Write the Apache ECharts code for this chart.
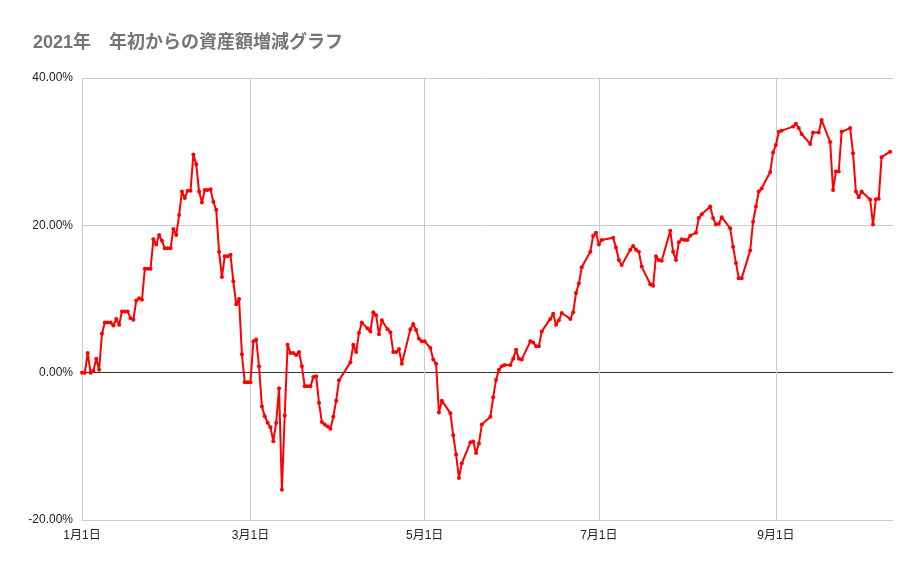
<!DOCTYPE html>
<html>
<head>
<meta charset="utf-8">
<script src="https://cdn.jsdelivr.net/npm/echarts@6/dist/echarts.min.js"></script>
<style>
html,body{margin:0;padding:0;background:#fff;}
#chart{width:921px;height:569px;}
</style>
</head>
<body>
<div id="chart"></div>
<script>
const titleText = '2021年　年初からの資産額増減グラフ';
const year = 2021;
const dates = [
'01-01','01-02','01-03','01-04','01-05','01-06','01-07','01-08','01-09','01-10',
'01-11','01-12','01-13','01-14','01-15','01-16','01-17','01-18','01-19','01-20',
'01-21','01-22','01-23','01-24','01-25','01-26','01-27','01-28','01-29','01-30',
'01-31','02-01','02-02','02-03','02-04','02-05','02-06','02-07','02-08','02-09',
'02-10','02-11','02-12','02-13','02-14','02-15','02-16','02-17','02-18','02-19',
'02-20','02-21','02-22','02-23','02-24','02-25','02-26','02-27','02-28','03-01',
'03-02','03-03','03-04','03-05','03-06','03-07','03-08','03-09','03-10','03-11',
'03-12','03-13','03-14','03-15','03-16','03-17','03-18','03-19','03-20','03-21',
'03-22','03-23','03-24','03-25','03-26','03-27','03-28','03-29','03-30','03-31',
'04-01','04-05','04-06','04-07','04-08','04-09','04-11','04-12','04-13','04-14',
'04-15','04-16','04-18','04-19','04-20','04-21','04-22','04-23','04-26','04-27',
'04-28','04-29','04-30','05-01','05-03','05-04','05-05','05-06','05-07','05-10',
'05-11','05-12','05-13','05-14','05-17','05-18','05-19','05-20','05-21','05-24',
'05-25','05-26','05-27','05-28','05-29','05-31','06-01','06-02','06-03','06-04',
'06-07','06-08','06-09','06-10','06-11','06-14','06-15','06-16','06-17','06-18',
'06-21','06-22','06-23','06-24','06-25','06-28','06-29','06-30','07-01','07-02',
'07-06','07-07','07-08','07-09','07-12','07-13','07-14','07-15','07-16','07-19',
'07-20','07-21','07-22','07-23','07-26','07-27','07-28','07-29','07-30','07-31',
'08-01','08-02','08-04','08-05','08-06','08-09','08-10','08-11','08-12','08-13',
'08-16','08-17','08-18','08-19','08-20','08-23','08-24','08-25','08-26','08-27',
'08-30','08-31','09-01','09-02','09-03','09-07','09-08','09-09','09-10','09-13',
'09-14','09-16','09-17','09-20','09-21','09-22','09-23','09-24','09-27','09-28',
'09-29','09-30','10-01','10-04','10-05','10-06','10-07','10-08','10-11'
];
const changePct = [
0.0,0.0,2.67,0.0,0.27,1.9,0.4,5.3,6.8,6.8,
6.8,6.4,7.3,6.5,8.3,8.3,8.3,7.4,7.2,9.8,
10.1,9.9,14.1,14.1,14.1,18.1,17.4,18.7,17.9,16.9,
16.9,16.9,19.5,18.7,21.4,24.6,23.7,24.7,24.7,29.6,
28.3,24.6,23.1,24.8,24.8,24.9,23.2,22.1,16.4,13.0,
15.8,15.8,16.0,12.4,9.3,10.0,2.5,-1.3,-1.3,-1.3,
4.25,4.5,0.86,-4.6,-5.9,-6.8,-7.4,-9.3,-6.8,-2.1,
-15.9,-5.8,3.8,2.67,2.67,2.4,2.8,0.86,-1.86,-1.86,
-1.86,-0.6,-0.5,-4.1,-6.7,-7.05,-7.3,-7.6,-6.0,-3.8,
-1.04,1.4,3.8,2.8,5.4,6.8,6.0,5.6,8.2,7.8,
5.2,7.1,5.9,5.5,2.8,2.8,3.2,1.2,5.9,6.6,
5.8,4.6,4.25,4.25,3.35,1.8,1.2,-5.4,-3.8,-5.5,
-8.5,-11.1,-14.3,-12.3,-9.45,-9.35,-10.9,-9.6,-7.05,-6.0,
-3.35,-0.95,0.4,0.86,1.04,1.04,1.9,3.1,1.9,1.8,
4.25,4.1,3.6,3.6,5.6,7.3,8.0,6.5,7.1,8.1,
7.3,8.2,10.8,12.1,14.3,16.4,18.6,19.0,17.4,18.0,
18.3,17.0,15.3,14.6,16.7,17.2,16.7,16.4,14.4,12.0,
11.8,15.8,15.3,15.2,19.25,16.4,15.3,17.7,18.1,18.0,
18.0,18.6,19.0,21.0,21.5,22.55,21.0,20.1,20.2,21.1,
19.6,17.1,14.9,12.8,12.8,16.6,20.5,22.55,24.6,25.0,
27.25,29.9,30.9,32.7,32.85,33.4,33.8,33.2,32.4,31.05,
32.6,32.6,34.3,31.3,24.8,27.3,27.3,32.7,33.2,29.8,
24.6,23.8,24.6,23.5,20.1,23.55,23.6,29.25,30.0
];
const xTickDates = ['01-01','03-01','05-01','07-01','09-01'];
const xRange = ['01-01','10-12'];
const yTicks = [-20, 0, 20, 40];

const DAY = 86400000;
function toDate(md){ const p = md.split('-'); return new Date(Date.UTC(year, +p[0]-1, +p[1])); }
const origin = toDate(xRange[0]).getTime();
function toDay(md){ return Math.round((toDate(md).getTime() - origin) / DAY); }
const seriesData = dates.map((d,i)=>[toDay(d), changePct[i]]);
const tickDays = xTickDates.map(toDay);

const chart = echarts.init(document.getElementById('chart'));
const font = "'Liberation Sans','Noto Sans CJK JP',Arial,sans-serif";
chart.setOption({
  animation:false,
  backgroundColor:'#ffffff',
  title:{
    text:titleText, left:28, top:29,
    textStyle:{fontFamily:font, fontSize:18, fontWeight:'bold', color:'#757575'}
  },
  grid:{left:82, right:28, top:78, bottom:49},
  xAxis:{
    type:'value',
    min:toDay(xRange[0]), max:toDay(xRange[1]),
    axisLine:{show:true, onZero:false, lineStyle:{color:'#cccccc', width:1}},
    axisTick:{show:false, customValues:tickDays},
    axisLabel:{
      customValues:tickDays, color:'#222222', fontSize:12, fontFamily:font, margin:10,
      formatter:function(v){ const d=new Date(origin + v*DAY); return (d.getUTCMonth()+1)+'月'+d.getUTCDate()+'日'; }
    },
    splitLine:{show:true, lineStyle:{color:'#cccccc', width:1}}
  },
  yAxis:{
    type:'value', min:yTicks[0], max:yTicks[yTicks.length-1], interval:20,
    axisLine:{show:false}, axisTick:{show:false},
    axisLabel:{color:'#222222', fontSize:12, fontFamily:font, margin:9,
      formatter:function(v){ return v.toFixed(2)+'%'; }},
    splitLine:{show:true, lineStyle:{color:['#cccccc','#333333','#cccccc','#cccccc'], width:1}}
  },
  series:[{
    type:'line', data:seriesData,
    lineStyle:{color:'#ff0000', width:2},
    itemStyle:{color:'#ff0000'},
    symbol:'circle', symbolSize:4, showSymbol:true
  }]
});
</script>
</body>
</html>
